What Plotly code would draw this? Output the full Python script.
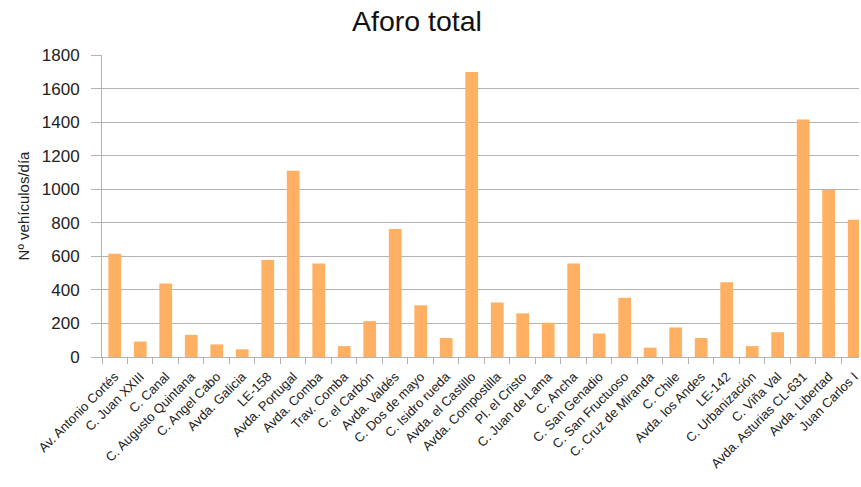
import plotly.graph_objects as go

categories = [
    "Av. Antonio Cortés", "C. Juan XXIII", "C. Canal", "C. Augusto Quintana",
    "C. Angel Cabo", "Avda. Galicia", "LE-158", "Avda. Portugal", "Avda. Comba",
    "Trav. Comba", "C. el Carbón", "Avda. Valdés", "C. Dos de mayo",
    "C. Isidro rueda", "Avda. el Castillo", "Avda. Compostilla", "Pl. el Cristo",
    "C. Juan de Lama", "C. Ancha", "C. San Genadio", "C. San Fructuoso",
    "C. Cruz de Miranda", "C. Chile", "Avda. los Andes", "LE-142",
    "C. Urbanización", "C. Viña Val", "Avda. Asturias CL-631", "Avda. Libertad",
    "Juan Carlos I",
]
values = [
    615, 92, 438, 132, 75, 46, 578, 1110, 558,
    65, 214, 763, 308, 113, 1698, 325, 260,
    204, 558, 140, 353, 56, 176, 113, 446,
    65, 148, 1416, 995, 818,
]
y_ticks = [0, 200, 400, 600, 800, 1000, 1200, 1400, 1600, 1800]

fig = go.Figure(
    go.Bar(x=categories, y=values, marker=dict(color="#ffb062", line=dict(width=0)))
)

fig.update_layout(
    width=861, height=487,
    margin=dict(l=102, r=0, t=55, b=130),
    paper_bgcolor="white", plot_bgcolor="white",
    bargap=0.5,
    showlegend=False,
    font=dict(family="Liberation Sans, Arial, sans-serif", color="#222222"),
    title=dict(text="Aforo total", x=417 / 861, xref="container", xanchor="center",
               y=1 - 21 / 487, yref="container", yanchor="middle",
               font=dict(size=28.5, color="#111111")),
)
fig.update_xaxes(
    type="category",
    range=[-0.5, 29.19],
    tickangle=-45,
    tickson="boundaries",
    ticks="outside", ticklen=6, tickcolor="#b3b3b3",
    ticklabelstandoff=6,
    showline=True, linecolor="#b3b3b3", linewidth=1,
    showgrid=False,
    tickfont=dict(size=13, color="#222222"),
)
fig.update_yaxes(
    range=[0, 1800],
    tickvals=y_ticks,
    ticks="outside", ticklen=10, tickcolor="#b3b3b3",
    ticklabelstandoff=8,
    showline=True, linecolor="#b3b3b3", linewidth=1,
    showgrid=True, gridcolor="#b3b3b3", gridwidth=1,
    zeroline=False,
    tickfont=dict(size=17, color="#222222"),
    title=dict(text="Nº vehículos/día", font=dict(size=15, color="#222222"), standoff=8),
)

fig.write_html("out.html")
